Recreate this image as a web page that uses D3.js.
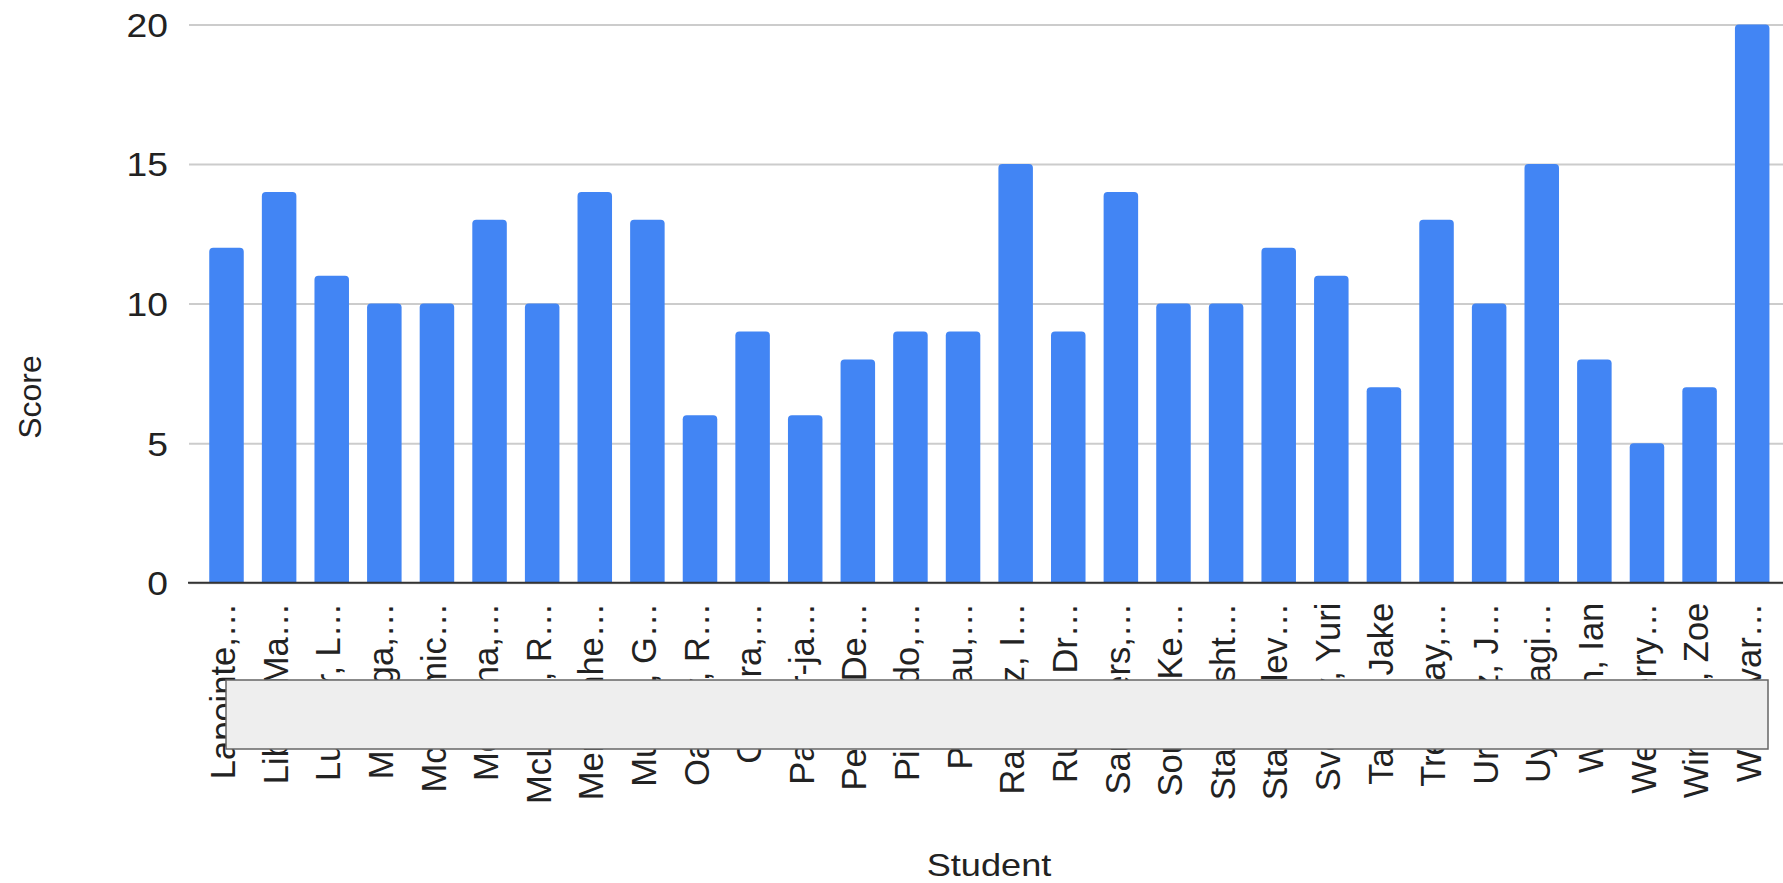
<!DOCTYPE html>
<html>
<head>
<meta charset="utf-8">
<script src="https://cdn.jsdelivr.net/npm/d3@7"></script>
<style>
  html, body { margin: 0; padding: 0; background: #ffffff; }
  svg { display: block; font-family: "Liberation Sans", Arial, sans-serif; }
</style>
</head>
<body>
<script>
const categories = [
  "Lapointe,…", "Libby, Ma…", "Lunder, L…", "Malonga,…", "McCormic…",
  "Montana,…", "McLean, R…", "Mendenhe…", "Munoz, G…", "Oakley, R…",
  "Oliveira,…", "Palmer-ja…", "Perez, De…", "Piccardo,…", "Perreau,…",
  "Ramirez, I…", "Rubio, Dr…", "Saunders,…", "Sousa, Ke…", "Stavrovsht…",
  "Stambolev…", "Svetlov, Yuri", "Taylor, Jake", "Tremblay,…", "Urbaez, J…",
  "Uyenoagi…", "Wilson, Ian", "Westberry…", "Winters, Zoe", "Woldevar…"
];
const scores = [12, 14, 11, 10, 10, 13, 10, 14, 13, 6, 9, 6, 8, 9, 9, 15, 9, 14, 10, 10, 12, 11, 7, 13, 10, 15, 8, 5, 7, 20];
const yTicks = [0, 5, 10, 15, 20];
const xTitle = "Student";
const yTitle = "Score";

const W = 1783, H = 883;
const plotLeft = 189, plotRight = 1783;
const stretch = 1.13;

const svg = d3.select("body").append("svg")
  .attr("width", W).attr("height", H);

const x = d3.scaleBand().domain(categories)
  .range([200.2, 1778.5]).paddingInner(0.344).paddingOuter(0.172);
const y = d3.scaleLinear().domain([0, 20]).range([582.7, 24.4]);

// grid + y tick labels
const yAxis = svg.append("g")
  .attr("transform", `translate(${plotLeft},0)`)
  .call(d3.axisLeft(y).tickValues(yTicks).tickSize(-(plotRight - plotLeft)).tickPadding(21));
yAxis.select(".domain").remove();
yAxis.selectAll(".tick line").attr("stroke", "#cccccc").attr("stroke-width", 2);
yAxis.selectAll(".tick text")
  .attr("x", -21 / stretch)
  .attr("dy", "0.36em")
  .attr("transform", `scale(${stretch},1)`)
  .attr("fill", "#222222")
  .attr("font-size", 33)
  .attr("font-family", "'Liberation Sans', Arial, sans-serif");

// bars
function barPath(x0, y0, w, h, r) {
  r = Math.min(r, h, w / 2);
  return `M${x0},${y0 + h}V${y0 + r}Q${x0},${y0} ${x0 + r},${y0}H${x0 + w - r}Q${x0 + w},${y0} ${x0 + w},${y0 + r}V${y0 + h}Z`;
}
svg.append("g").selectAll("path")
  .data(categories)
  .join("path")
  .attr("fill", "#4285F4")
  .attr("d", (c, i) => barPath(x(c), y(scores[i]), x.bandwidth(), y(0) - y(scores[i]), 4));

// baseline
svg.append("line")
  .attr("x1", plotLeft - 1).attr("x2", plotRight)
  .attr("y1", y(0)).attr("y2", y(0))
  .attr("stroke", "#333333").attr("stroke-width", 2);

// x axis labels
const xAxis = svg.append("g")
  .attr("transform", `translate(0,${y(0)})`)
  .call(d3.axisBottom(x).tickSize(0));
xAxis.select(".domain").remove();
xAxis.selectAll(".tick text")
  .attr("transform", "rotate(-90)")
  .attr("text-anchor", "end")
  .attr("x", -20)
  .attr("y", 0)
  .attr("dy", "0.25em")
  .attr("fill", "#222222")
  .attr("font-size", 34.5)
  .attr("font-family", "'Liberation Sans', Arial, sans-serif");

// redaction box over the labels
svg.append("rect")
  .attr("x", 226).attr("y", 680)
  .attr("width", 1768 - 226).attr("height", 749 - 680)
  .attr("fill", "#eeeeee")
  .attr("stroke", "#666666").attr("stroke-width", 1.5);

// axis titles
svg.append("g")
  .attr("transform", "translate(989,876)")
  .append("text")
  .attr("transform", `scale(${stretch},1)`)
  .attr("text-anchor", "middle")
  .attr("fill", "#222222")
  .attr("font-size", 32)
  .text(xTitle);

svg.append("text")
  .attr("transform", "translate(41,397) rotate(-90)")
  .attr("text-anchor", "middle")
  .attr("fill", "#222222")
  .attr("font-size", 32)
  .text(yTitle);
</script>
</body>
</html>
